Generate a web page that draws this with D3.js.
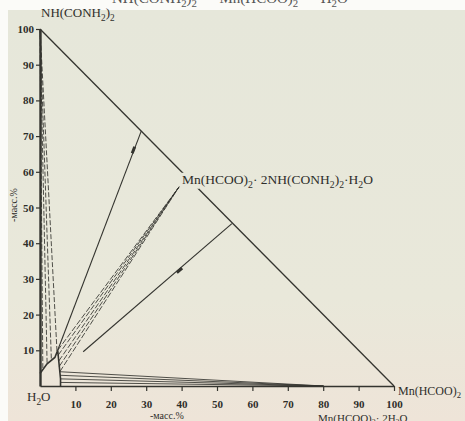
<!DOCTYPE html>
<html>
<head>
<meta charset="utf-8">
<script src="https://cdn.jsdelivr.net/npm/d3@7"></script>
<style>
body { margin: 0; background: #fff; }
text { font-family: "Liberation Serif", "DejaVu Serif", serif; fill: #2e2e2a; }
</style>
</head>
<body>
<svg id="chart" width="465" height="421"></svg>
<script>
// ternary diagram H2O - NH(CONH2)2 - Mn(HCOO)2, mass %
const xTicks = [10, 20, 30, 40, 50, 60, 70, 80, 90, 100];
const yTicks = [10, 20, 30, 40, 50, 60, 70, 80, 90, 100];

// solid phases [Mn(HCOO)2 %, NH(CONH2)2 %]
const biuretVertex = [0, 100];
const compoundPoint = [39.3, 55.8];
const dihydratePoint = [80.1, 0];

// solubility curve
const solubilityCurve = [[0, 3.5], [2, 6.2], [4.2, 8], [5, 10], [5.3, 7], [5.6, 4], [5.8, 2], [5.8, 0]];

// liquid phases of the tie lines
const biuretTies = [[0.8, 5], [2, 6.5], [3.2, 7.7], [4.8, 9.8]];
const compoundTies = [[5, 10], [5.1, 8.6], [5.3, 7], [5.45, 5.5], [5.6, 4]];
const dihydrateTies = [[5.6, 4], [5.7, 3], [5.8, 2], [5.8, 1]];

// auxiliary lines to the hypotenuse, with the marked point
const rayStarts = [[5, 10], [12.2, 9.6]];
const rayEnds = [[28.6, 71.4], [54.2, 45.5]];
const rayMarks = [[26.4, 66.1], [39.4, 32.4]];

const svg = d3.select("#chart");
const ink = "#34342f";

const x = d3.scaleLinear().domain([0, 100]).range([40, 394]);
const y = d3.scaleLinear().domain([0, 100]).range([386, 29]);

// paper
const defs = svg.append("defs");
const grad = defs.append("linearGradient")
	.attr("id", "paper")
	.attr("x1", 0).attr("y1", 0).attr("x2", 0).attr("y2", 1);
grad.append("stop").attr("offset", "0%").attr("stop-color", "#e6e7da");
grad.append("stop").attr("offset", "70%").attr("stop-color", "#e9e8da");
grad.append("stop").attr("offset", "100%").attr("stop-color", "#eee4d8");

svg.append("rect")
	.attr("width", 465).attr("height", 421)
	.attr("fill", "#fbfbf8");
svg.append("rect")
	.attr("x", 8).attr("y", 10)
	.attr("width", 457).attr("height", 411)
	.attr("fill", "url(#paper)");

// text with subscripts: parts = [[text, isSub], ...]
function richText(g, px, py, parts, size) {
	const t = g.append("text")
		.attr("x", px).attr("y", py)
		.style("font-size", size + "px");
	let sub = false;
	parts.forEach(([s, isSub]) => {
		const ts = t.append("tspan").text(s);
		if (isSub && !sub) ts.attr("dy", size * 0.28).style("font-size", (size * 0.72) + "px");
		else if (isSub) ts.style("font-size", (size * 0.72) + "px");
		else if (!isSub && sub) ts.attr("dy", -size * 0.28);
		sub = isSub;
	});
	return t;
}

// caption of the page above, cut by the scan
richText(svg, 112, 3, [["NH(CONH", 0], ["2", 1], [")", 0], ["2", 1], [" — Mn(HCOO)", 0], ["2", 1], [" — H", 0], ["2", 1], ["O", 0]], 15)
	.style("fill", "#555");

const line = d3.line().x(d => x(d[0])).y(d => y(d[1]));

const g = svg.append("g");

// tie lines
function ties(liquids, solid, width, dash) {
	g.selectAll(null)
		.data(liquids)
		.enter()
		.append("path")
		.attr("d", d => line([d, solid]))
		.attr("fill", "none")
		.attr("stroke", ink)
		.attr("stroke-width", width)
		.attr("stroke-dasharray", dash)
		.attr("opacity", 0.85);
}
ties(biuretTies, biuretVertex, 1, "5,2");
ties(compoundTies, compoundPoint, 1, "6,2");
ties(dihydrateTies, dihydratePoint, 1, null);

// rays to the hypotenuse
g.selectAll(null)
	.data(rayStarts)
	.enter()
	.append("path")
	.attr("d", (d, i) => line([d, rayEnds[i]]))
	.attr("fill", "none")
	.attr("stroke", ink)
	.attr("stroke-width", 1.1);

g.selectAll(null)
	.data(rayMarks)
	.enter()
	.append("path")
	.attr("d", (d, i) => {
		const a = rayStarts[i], b = rayEnds[i];
		const dx = x(b[0]) - x(a[0]), dy = y(b[1]) - y(a[1]);
		const len = Math.hypot(dx, dy);
		const ux = dx / len * 3.5, uy = dy / len * 3.5;
		const cx = x(d[0]), cy = y(d[1]);
		return `M${cx - ux},${cy - uy}L${cx + ux},${cy + uy}`;
	})
	.attr("stroke", ink)
	.attr("stroke-width", 3);

// solubility curve
g.append("path")
	.attr("d", line(solubilityCurve))
	.attr("fill", "none")
	.attr("stroke", ink)
	.attr("stroke-width", 1.6);

// hypotenuse
g.append("path")
	.attr("d", line([[0, 100], [100, 0]]))
	.attr("fill", "none")
	.attr("stroke", ink)
	.attr("stroke-width", 1.3);

// axes
const yAxis = d3.axisLeft(y).tickValues(yTicks).tickSize(4).tickSizeOuter(0).tickPadding(2);
const xAxis = d3.axisBottom(x).tickValues(xTicks).tickSize(5).tickSizeOuter(0).tickPadding(9);

const gy = svg.append("g")
	.attr("transform", `translate(${x(0)},0)`)
	.call(yAxis);
const gx = svg.append("g")
	.attr("transform", `translate(0,${y(0)})`)
	.call(xAxis);

[gx, gy].forEach(a => {
	a.select(".domain").attr("stroke", ink);
	a.selectAll(".tick line").attr("stroke", ink).attr("stroke-width", 1.2);
	a.selectAll(".tick text")
		.style("font-family", "'Liberation Serif', serif")
		.style("font-size", "11px")
		.style("font-weight", "bold")
		.attr("fill", "#3a3a34");
});
gy.select(".domain").attr("stroke-width", 2.4);
gx.select(".domain").attr("stroke-width", 1.6);

// labels
richText(svg, 41, 17, [["NH(CONH", 0], ["2", 1], [")", 0], ["2", 1]], 13);
richText(svg, 27, 401, [["H", 0], ["2", 1], ["O", 0]], 13);
richText(svg, 398, 395, [["Mn(HCOO)", 0], ["2", 1]], 12);
richText(svg, 318, 422, [["Mn(HCOO)", 0], ["2", 1], ["· 2H", 0], ["2", 1], ["O", 0]], 11);

svg.append("text")
	.attr("x", 150).attr("y", 419)
	.style("font-size", "10px")
	.text("-масс.%");

svg.append("text")
	.attr("transform", "translate(17,205) rotate(-90)")
	.attr("text-anchor", "middle")
	.style("font-size", "10px")
	.text("-масс.%");

// compound label, masking the hypotenuse below it
svg.append("rect")
	.attr("x", x(compoundPoint[0]) + 1).attr("y", y(compoundPoint[1]) - 14)
	.attr("width", 19).attr("height", 16)
	.attr("fill", "#e7e7da");
richText(svg, x(compoundPoint[0]) + 3, y(compoundPoint[1]) - 3,
	[["Mn(HCOO)", 0], ["2", 1], ["· 2NH(CONH", 0], ["2", 1], [")", 0], ["2", 1], ["·H", 0], ["2", 1], ["O", 0]], 13.5);
</script>
</body>
</html>
